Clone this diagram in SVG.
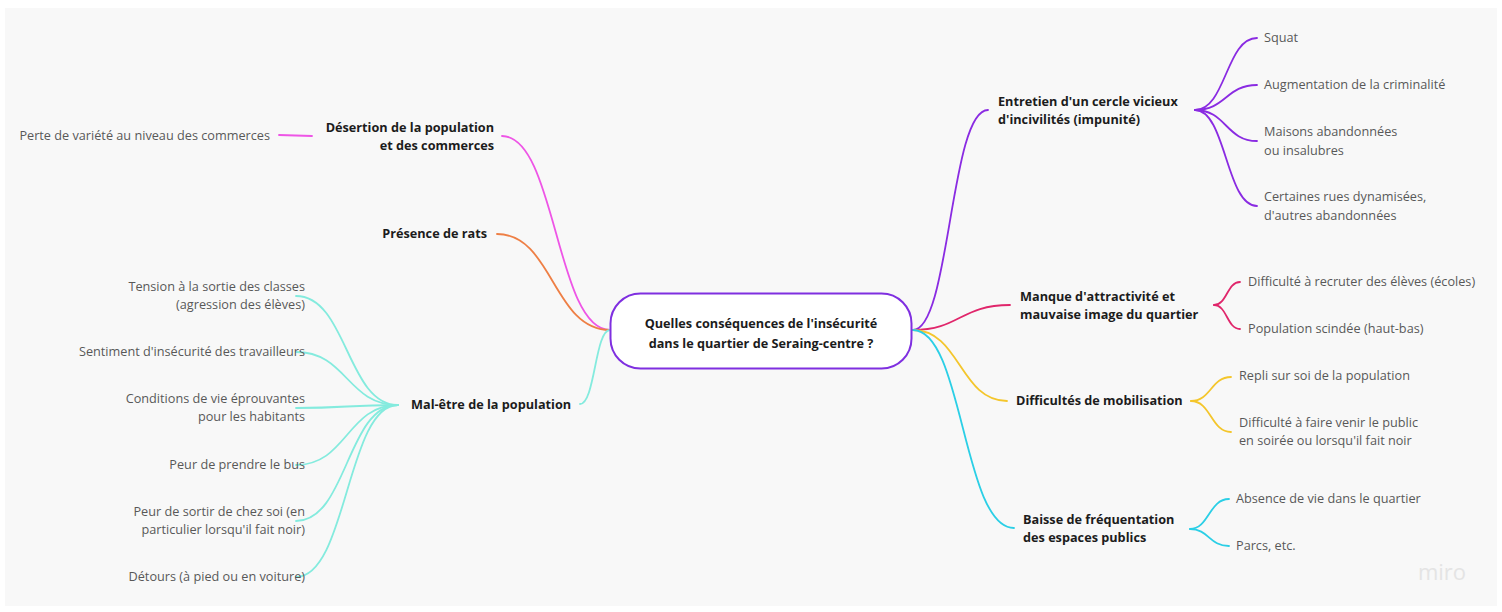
<svg xmlns="http://www.w3.org/2000/svg" width="1502" height="612" viewBox="0 0 1502 612">
  <style>
    .t { font-family: "Open Sans", "Liberation Sans", sans-serif; font-size: 12.7px; fill: #585858; }
    .b { font-family: "Open Sans", "Liberation Sans", sans-serif; font-size: 12.7px; font-weight: bold; fill: #1c1c1c; }
    .e { text-anchor: end; }
    .m { text-anchor: middle; }
    .c { fill: none; stroke-width: 1.8; stroke-linecap: round; }
    .purple { stroke: #8a2be2; }
    .magenta { stroke: #ee55e6; }
    .orange { stroke: #ee7f45; }
    .teal { stroke: #84ebde; }
    .crimson { stroke: #e0266b; }
    .yellow { stroke: #f4c62c; }
    .cyan { stroke: #2bcfe6; }
  </style>

  <!-- board -->
  <rect x="0" y="0" width="1502" height="612" fill="#ffffff"/>
  <rect x="5" y="8" width="1492" height="598" fill="#f8f8f8"/>

  <!-- connectors -->
  <g id="connectors">
    <!-- left side, from the central topic -->
    <path class="c magenta" d="M610,330 C556,330 556,136 502,136"/>
    <path class="c orange" d="M610,330 C553,330 553,234 497,234"/>
    <path class="c teal" d="M610,330 C595,330 595,404 580,404"/>
    <path class="c magenta" d="M312,136 L279,135"/>
    <path class="c teal" d="M398,405 C347,405 347,296 296,296"/>
    <path class="c teal" d="M398,405 C347,405 347,352 296,352"/>
    <path class="c teal" d="M398,405 C347,405 347,408 296,408"/>
    <path class="c teal" d="M398,405 C347,405 347,465 296,465"/>
    <path class="c teal" d="M398,405 C347,405 347,521 296,521"/>
    <path class="c teal" d="M398,405 C347,405 347,577 296,577"/>

    <!-- right side, from the central topic -->
    <path class="c purple" d="M913,330 C950,330 950,110 988,110"/>
    <path class="c crimson" d="M913,330 C960,330 960,305 1010,305"/>
    <path class="c yellow" d="M913,330 C960,330 960,401 1007,401"/>
    <path class="c cyan" d="M913,330 C963,330 963,528 1014,528"/>

    <path class="c purple" d="M1195,110 C1226,110 1226,38 1257,38"/>
    <path class="c purple" d="M1195,110 C1226,110 1226,85 1257,85"/>
    <path class="c purple" d="M1195,110 C1226,110 1226,141 1257,141"/>
    <path class="c purple" d="M1195,110 C1226,110 1226,206 1257,206"/>

    <path class="c crimson" d="M1214,305 C1227,305 1227,282 1240,282"/>
    <path class="c crimson" d="M1214,305 C1227,305 1227,329 1240,329"/>

    <path class="c yellow" d="M1191,401 C1211,401 1211,377 1231,377"/>
    <path class="c yellow" d="M1191,401 C1211,401 1211,432 1231,432"/>

    <path class="c cyan" d="M1190,529 C1209,529 1209,499 1229,499"/>
    <path class="c cyan" d="M1190,529 C1209,529 1209,546 1229,546"/>
  </g>

  <!-- central topic -->
  <g id="center">
    <rect x="610.5" y="293.5" width="301" height="75" rx="30" ry="30" fill="#ffffff" stroke="#7f2fe0" stroke-width="2"/>
    <text class="b m" x="761" y="328">Quelles conséquences de l'insécurité</text>
    <text class="b m" x="761" y="348">dans le quartier de Seraing-centre ?</text>
  </g>

  <!-- left branches -->
  <g id="desertion">
    <text class="b e" x="494" y="132">Désertion de la population</text>
    <text class="b e" x="494" y="150">et des commerces</text>
  </g>
  <g id="perte-variete">
    <text class="t e" x="270" y="140">Perte de variété au niveau des commerces</text>
  </g>
  <g id="rats">
    <text class="b e" x="487" y="238">Présence de rats</text>
  </g>
  <g id="mal-etre">
    <text class="b" x="411" y="409">Mal-être de la population</text>
  </g>
  <g id="tension">
    <text class="t e" x="305" y="291">Tension à la sortie des classes</text>
    <text class="t e" x="305" y="309">(agression des élèves)</text>
  </g>
  <g id="sentiment">
    <text class="t e" x="305" y="356">Sentiment d'insécurité des travailleurs</text>
  </g>
  <g id="conditions">
    <text class="t e" x="305" y="403">Conditions de vie éprouvantes</text>
    <text class="t e" x="305" y="421">pour les habitants</text>
  </g>
  <g id="bus">
    <text class="t e" x="305" y="469">Peur de prendre le bus</text>
  </g>
  <g id="sortir">
    <text class="t e" x="305" y="516">Peur de sortir de chez soi (en</text>
    <text class="t e" x="305" y="534">particulier lorsqu'il fait noir)</text>
  </g>
  <g id="detours">
    <text class="t e" x="305" y="581">Détours (à pied ou en voiture)</text>
  </g>

  <!-- right branches -->
  <g id="entretien">
    <text class="b" x="998" y="106">Entretien d'un cercle vicieux</text>
    <text class="b" x="998" y="124">d'incivilités (impunité)</text>
  </g>
  <g id="squat">
    <text class="t" x="1264" y="42">Squat</text>
  </g>
  <g id="criminalite">
    <text class="t" x="1264" y="89">Augmentation de la criminalité</text>
  </g>
  <g id="maisons">
    <text class="t" x="1264" y="136">Maisons abandonnées</text>
    <text class="t" x="1264" y="155">ou insalubres</text>
  </g>
  <g id="rues">
    <text class="t" x="1264" y="201">Certaines rues dynamisées,</text>
    <text class="t" x="1264" y="220">d'autres abandonnées</text>
  </g>

  <g id="manque">
    <text class="b" x="1020" y="301">Manque d'attractivité et</text>
    <text class="b" x="1020" y="319">mauvaise image du quartier</text>
  </g>
  <g id="recruter">
    <text class="t" x="1248" y="286">Difficulté à recruter des élèves (écoles)</text>
  </g>
  <g id="scindee">
    <text class="t" x="1248" y="333">Population scindée (haut-bas)</text>
  </g>

  <g id="mobilisation">
    <text class="b" x="1016" y="405">Difficultés de mobilisation</text>
  </g>
  <g id="repli">
    <text class="t" x="1239" y="380">Repli sur soi de la population</text>
  </g>
  <g id="public">
    <text class="t" x="1239" y="427">Difficulté à faire venir le public</text>
    <text class="t" x="1239" y="445">en soirée ou lorsqu'il fait noir</text>
  </g>

  <g id="baisse">
    <text class="b" x="1023" y="524">Baisse de fréquentation</text>
    <text class="b" x="1023" y="542">des espaces publics</text>
  </g>
  <g id="absence">
    <text class="t" x="1236" y="503">Absence de vie dans le quartier</text>
  </g>
  <g id="parcs">
    <text class="t" x="1236" y="550">Parcs, etc.</text>
  </g>

  <!-- watermark -->
  <text x="1442" y="580" text-anchor="middle" font-family="Open Sans, Liberation Sans, sans-serif" font-size="22" fill="#e4e4e4">miro</text>
</svg>
